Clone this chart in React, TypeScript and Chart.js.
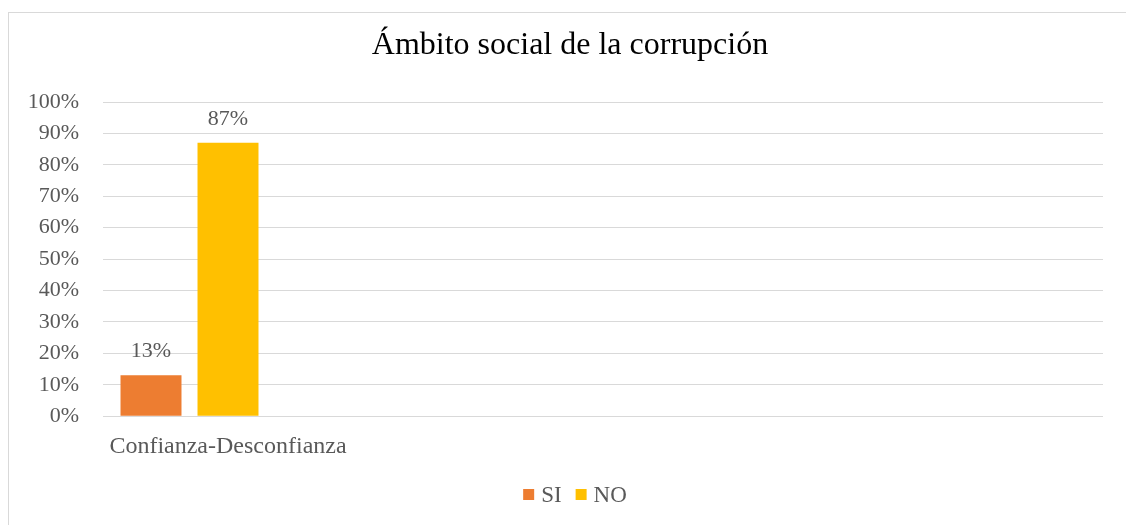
import React, { useEffect, useRef } from "react";
import { Chart, registerables } from "chart.js";

Chart.register(...registerables);

const chartTitle = "Ámbito social de la corrupción";
const categories = ["Confianza-Desconfianza", "", "", ""];
const seriesNames = ["SI", "NO", ""];
const siValues: (number | null)[] = [13, null, null, null];
const noValues: (number | null)[] = [87, null, null, null];
const blankValues: (number | null)[] = [null, null, null, null];
const seriesColors = ["#ED7D31", "#FFC000", "#A5A5A5"];
const yMin = 0;
const yMax = 100;
const yStep = 10;

const FONT = "'Liberation Serif', 'Times New Roman', serif";
const TEXT = "#595959";

const dataLabelPlugin = {
  id: "dataLabels",
  afterDatasetsDraw(chart: any) {
    const ctx = chart.ctx;
    ctx.save();
    ctx.font = `22px ${FONT}`;
    ctx.fillStyle = TEXT;
    ctx.textAlign = "center";
    ctx.textBaseline = "middle";
    chart.data.datasets.forEach((ds: any, di: number) => {
      const meta = chart.getDatasetMeta(di);
      if (meta.hidden) return;
      meta.data.forEach((el: any, i: number) => {
        const v = ds.data[i];
        if (v === null || v === undefined) return;
        ctx.fillText(`${v}%`, el.x, el.y - 24);
      });
    });
    ctx.restore();
  },
};

const titlePlugin = {
  id: "customTitle",
  afterDraw(chart: any) {
    const ctx = chart.ctx;
    ctx.save();
    ctx.font = `32px ${FONT}`;
    ctx.fillStyle = "#000000";
    ctx.textAlign = "center";
    ctx.textBaseline = "alphabetic";
    ctx.fillText(chartTitle, 570, 53.5);
    ctx.restore();
  },
};

const legendPlugin = {
  id: "customLegend",
  afterDraw(chart: any) {
    const ctx = chart.ctx;
    ctx.save();
    ctx.font = `23px ${FONT}`;
    ctx.textAlign = "left";
    ctx.textBaseline = "alphabetic";
    const items = chart.data.datasets
      .map((ds: any) => ({ text: ds.label as string, color: ds.backgroundColor as string }))
      .filter((it: any) => it.text !== "");
    const box = 11;
    const gap = 7;
    const itemGap = 14;
    const widths = items.map((it: any) => box + gap + ctx.measureText(it.text).width);
    const total = widths.reduce((a: number, b: number) => a + b, 0) + itemGap * (items.length - 1);
    let x = 575 - total / 2;
    items.forEach((it: any, i: number) => {
      ctx.fillStyle = it.color;
      ctx.fillRect(x, 489, box, box);
      ctx.fillStyle = TEXT;
      ctx.fillText(it.text, x + box + gap, 502);
      x += widths[i] + itemGap;
    });
    ctx.restore();
  },
};

export default function App() {
  const ref = useRef<HTMLCanvasElement | null>(null);

  useEffect(() => {
    if (!ref.current) return;
    const chart = new Chart(ref.current, {
      type: "bar",
      data: {
        labels: categories,
        datasets: [
          { label: seriesNames[0], data: siValues, backgroundColor: seriesColors[0] },
          { label: seriesNames[1], data: noValues, backgroundColor: seriesColors[1] },
          { label: seriesNames[2], data: blankValues, backgroundColor: seriesColors[2] },
        ],
      },
      options: {
        responsive: false,
        animation: false,
        devicePixelRatio: 1,
        datasets: { bar: { categoryPercentage: 0.924, barPercentage: 0.792 } },
        layout: { padding: { left: 20, right: 23, top: 102, bottom: 56 } },
        plugins: {
          title: { display: false },
          legend: { display: false },
          tooltip: { enabled: false },
        },
        scales: {
          x: {
            grid: { display: false },
            border: { display: false },
            ticks: {
              autoSkip: false,
              maxRotation: 0,
              color: TEXT,
              font: { family: FONT, size: 24 },
              padding: 8,
            },
          },
          y: {
            min: yMin,
            max: yMax,
            ticks: {
              stepSize: yStep,
              color: TEXT,
              font: { family: FONT, size: 22 },
              padding: 24,
              callback: (v: any) => `${v}%`,
            },
            grid: { color: "#d9d9d9", drawTicks: false },
            border: { display: false },
            afterFit: (s: any) => {
              s.width = 83;
            },
          },
        },
      },
      plugins: [dataLabelPlugin, titlePlugin, legendPlugin],
    });
    return () => chart.destroy();
  }, []);

  return (
    <div
      style={{
        position: "fixed",
        left: 0,
        top: 0,
        width: 1126,
        height: 525,
        overflow: "hidden",
        background: "#ffffff",
      }}
    >
      <div
        style={{
          position: "absolute",
          left: 8,
          top: 12,
          width: 1140,
          height: 540,
          border: "1px solid #d9d9d9",
          boxSizing: "border-box",
        }}
      />
      <canvas
        ref={ref}
        width={1126}
        height={525}
        style={{ position: "absolute", left: 0, top: 0, width: 1126, height: 525 }}
      />
    </div>
  );
}
